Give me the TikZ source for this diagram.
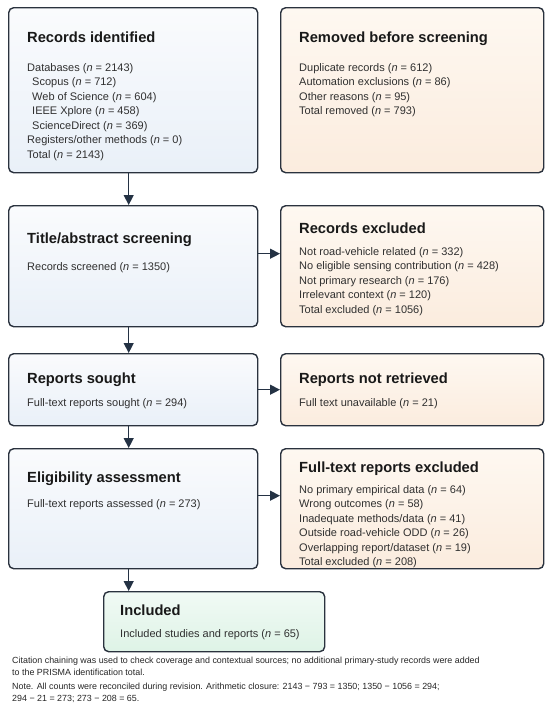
\documentclass[tikz,border=0pt]{standalone}
\usepackage{fontspec}
\setmainfont{Liberation Sans}
\usetikzlibrary{arrows.meta}
\definecolor{boxedge}{RGB}{42,50,62}
\definecolor{flowline}{RGB}{36,50,68}
\definecolor{idtop}{RGB}{250,251,253}
\definecolor{idbot}{RGB}{233,240,248}
\definecolor{extop}{RGB}{254,248,241}
\definecolor{exbot}{RGB}{251,236,222}
\definecolor{intop}{RGB}{241,250,245}
\definecolor{inbot}{RGB}{222,243,230}
\definecolor{bodyink}{RGB}{48,48,48}
\newcommand\nn{\textit{n}}
\newcommand\StageText[5]{%
    \node[titletext] (#1-title) at ([shift={(#2)}]#1.north west) {#4};
    \node[bodytext] (#1-body) at ([shift={(#3)}]#1.north west) {\begin{tabular}[t]{@{}l@{}}#5\end{tabular}};
}

\begin{document}
\begin{tikzpicture}[x=1pt,y=1pt,
    stage/.style={draw=boxedge, line width=1.4pt, rounded corners=5pt, inner sep=0pt, anchor=north west},
    flowbox/.style={stage, top color=idtop, bottom color=idbot},
    outbox/.style={stage, top color=extop, bottom color=exbot},
    finalbox/.style={stage, top color=intop, bottom color=inbot},
    titletext/.style={anchor=base west, inner sep=0pt, font=\fontsize{14.7}{17}\selectfont\bfseries, text=black!90},
    bodytext/.style={anchor=base west, inner sep=0pt, font=\fontsize{11}{14.5}\selectfont, text=bodyink},
    notetext/.style={anchor=base west, inner sep=0pt, align=left, font=\fontsize{8.9}{11.5}\selectfont, text=black!85},
    flow/.style={draw=flowline, line width=1.3pt, -{Triangle[length=10pt,width=10pt]}}]
    \useasboundingbox (0,0) rectangle (550,-726);

    % left column
    \node[flowbox, minimum width=249, minimum height=165] (ident) at (8,-7) {};
    \node[flowbox, minimum width=249, minimum height=121] (screen) at (8,-205) {};
    \node[flowbox, minimum width=249, minimum height=72] (sought) at (8,-353) {};
    \node[flowbox, minimum width=249, minimum height=120] (elig) at (8,-448) {};
    \node[finalbox, minimum width=221, minimum height=60] (incl) at (103,-591) {};
    % right column
    \node[outbox, minimum width=263, minimum height=165] (removed) at (280,-7) {};
    \node[outbox, minimum width=263, minimum height=121] (excl) at (280,-205) {};
    \node[outbox, minimum width=263, minimum height=72] (notret) at (280,-353) {};
    \node[outbox, minimum width=263, minimum height=120] (ftexcl) at (280,-448) {};

    \StageText{ident}{19,-35}{19,-64}{Records identified}{Databases (\nn{} = 2143)\\
        \hspace*{5pt}Scopus (\nn{} = 712)\\
        \hspace*{5pt}Web of Science (\nn{} = 604)\\
        \hspace*{5pt}IEEE Xplore (\nn{} = 458)\\
        \hspace*{5pt}ScienceDirect (\nn{} = 369)\\
        Registers/other methods (\nn{} = 0)\\
        Total (\nn{} = 2143)}
    \StageText{removed}{19,-35}{19,-64}{Removed before screening}{Duplicate records (\nn{} = 612)\\
        Automation exclusions (\nn{} = 86)\\
        Other reasons (\nn{} = 95)\\
        Total removed (\nn{} = 793)}
    \StageText{screen}{19,-38}{19,-65}{Title/abstract screening}{Records screened (\nn{} = 1350)}
    \StageText{excl}{19,-28}{19,-50}{Records excluded}{Not road-vehicle related (\nn{} = 332)\\
        No eligible sensing contribution (\nn{} = 428)\\
        Not primary research (\nn{} = 176)\\
        Irrelevant context (\nn{} = 120)\\
        Total excluded (\nn{} = 1056)}
    \StageText{sought}{19,-30}{19,-53}{Reports sought}{Full-text reports sought (\nn{} = 294)}
    \StageText{notret}{19,-30}{19,-53}{Reports not retrieved}{Full text unavailable (\nn{} = 21)}
    \StageText{elig}{19,-34}{19,-59}{Eligibility assessment}{Full-text reports assessed (\nn{} = 273)}
    \StageText{ftexcl}{19,-24}{19,-45}{Full-text reports excluded}{No primary empirical data (\nn{} = 64)\\
        Wrong outcomes (\nn{} = 58)\\
        Inadequate methods/data (\nn{} = 41)\\
        Outside road-vehicle ODD (\nn{} = 26)\\
        Overlapping report/dataset (\nn{} = 19)\\
        Total excluded (\nn{} = 208)}
    \StageText{incl}{17,-24}{17,-46}{Included}{Included studies and reports (\nn{} = 65)}

    % arrows
    \draw[flow] ([xshift=-4.5]ident.south) -- ([xshift=-4.5]screen.north);
    \draw[flow] ([xshift=-4.5]screen.south) -- ([xshift=-4.5]sought.north);
    \draw[flow] ([xshift=-4.5]sought.south) -- ([xshift=-4.5]elig.north);
    \draw[flow] ([xshift=-4.5]elig.south) -- ([xshift=-4.5]elig.south |- incl.north);
    \draw[flow] ([yshift=12.5]screen.east) -- ([yshift=12.5]excl.west);
    \draw[flow] (sought.east) -- (notret.west);
    \draw[flow] ([yshift=13]elig.east) -- ([yshift=13]ftexcl.west);

    % notes
    \node[notetext] (chaining) at (12,-675) {Citation chaining was used to check coverage and contextual sources; no additional primary-study records were added\\
        to the PRISMA identification total.};
    \node[notetext] (closure) at (12,-701) {Note. All counts were reconciled during revision. Arithmetic closure: 2143 − 793 = 1350; 1350 − 1056 = 294;\\
        294 − 21 = 273; 273 − 208 = 65.};
\end{tikzpicture}
\end{document}
